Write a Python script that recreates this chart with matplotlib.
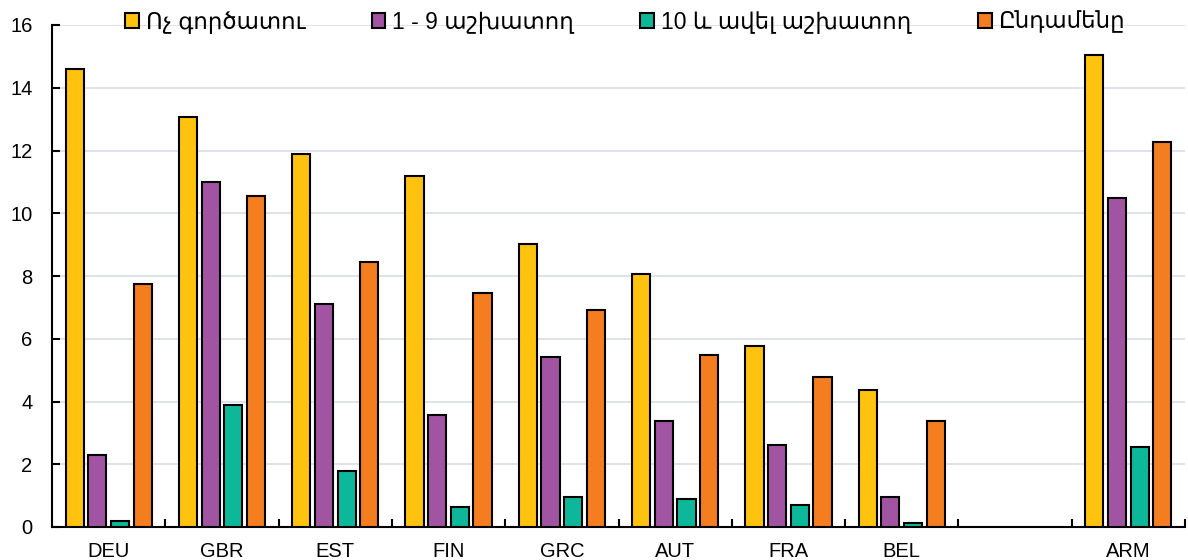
import numpy as np
import matplotlib.pyplot as plt

# Country codes along the x axis (empty slot separates ARM from the rest)
countries = ["DEU", "GBR", "EST", "FIN", "GRC", "AUT", "FRA", "BEL", "", "ARM"]

series_names = ["Ոչ գործատու", "1 - 9 աշխատող", "10 և ավել աշխատող", "Ընդամենը"]

no_employer = [14.6, 13.07, 11.89, 11.19, 9.02, 8.06, 5.77, 4.37, np.nan, 15.05]
small_firm = [2.29, 11.0, 7.11, 3.57, 5.42, 3.38, 2.61, 0.96, np.nan, 10.49]
large_firm = [0.19, 3.89, 1.78, 0.64, 0.96, 0.89, 0.70, 0.13, np.nan, 2.55]
total = [7.75, 10.55, 8.45, 7.46, 6.92, 5.48, 4.78, 3.38, np.nan, 12.27]

colors = ["#FFC20E", "#A154A1", "#0DB89A", "#F47D20"]

plt.rcParams["font.family"] = ["Liberation Sans", "DejaVu Sans"]

fig = plt.figure(figsize=(11.88, 5.6), dpi=100)
ax = fig.add_axes([52 / 1188, 33 / 560, 1133 / 1188, 502 / 560])

x = np.arange(len(countries))
width = 0.16
offsets = [-0.30, -0.10, 0.10, 0.30]

for vals, name, col, off in zip([no_employer, small_firm, large_firm, total],
                                series_names, colors, offsets):
    ax.bar(x + off, vals, width, color=col, edgecolor="black",
           linewidth=1.5, label=name, zorder=3)

# Axes styling
ax.set_xlim(-0.5, len(countries) - 0.5)
ax.set_ylim(0, 16)
ax.set_yticks(np.arange(0, 17, 2))
ax.grid(axis="y", color="#d9dde8", linewidth=1.2, zorder=0)
for side in ["top", "right"]:
    ax.spines[side].set_visible(False)
ax.spines["left"].set_linewidth(1.5)
ax.spines["bottom"].set_linewidth(1.5)

ax.set_xticks(x)
ax.set_xticklabels(countries)
ax.set_xticks(np.arange(0.5, len(countries), 1.0), minor=True)
ax.tick_params(axis="x", which="major", length=0, labelsize=14.5, pad=11)
ax.tick_params(axis="x", which="minor", direction="in", length=6, width=1.5)
ax.tick_params(axis="y", direction="in", length=6, width=1.5, labelsize=14.5, pad=14)

fig.legend(loc="center", bbox_to_anchor=(625 / 1188, 1 - 22 / 560), ncol=4,
           frameon=False, fontsize=16.5, handlelength=0.6, handleheight=0.6,
           handletextpad=0.3, columnspacing=2.9, borderaxespad=0)

fig.savefig("out.png", dpi=100)
